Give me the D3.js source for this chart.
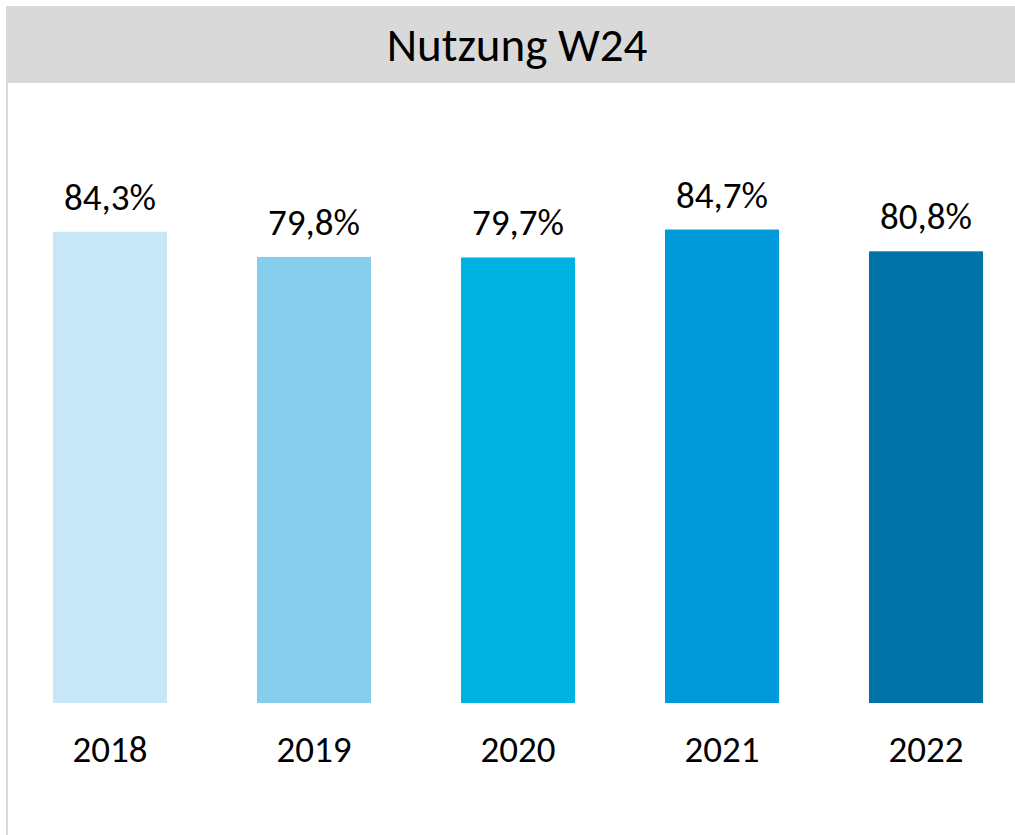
<!DOCTYPE html>
<html>
<head>
<meta charset="utf-8">
<script src="https://cdn.jsdelivr.net/npm/d3@7"></script>
<style>
  html, body { margin: 0; padding: 0; background: #fff; }
  svg { display: block; }
  text { font-family: Carlito, Lato, "Open Sans", sans-serif; fill: #000; }
</style>
</head>
<body>
<svg id="chart" width="1015" height="835"></svg>
<script>
const title = "Nutzung W24";
const years = ["2018", "2019", "2020", "2021", "2022"];
const values = [84.3, 79.8, 79.7, 84.7, 80.8];
const labels = ["84,3%", "79,8%", "79,7%", "84,7%", "80,8%"];
const colors = ["#c7e6f6", "#86ceec", "#00b2e2", "#0099da", "#0073a6"];

const svg = d3.select("#chart");

// frame: title band and left border
svg.append("rect").attr("x", 6).attr("y", 6).attr("width", 1009).attr("height", 77).attr("fill", "#d9d9d9");
svg.append("rect").attr("x", 6).attr("y", 83).attr("width", 2).attr("height", 752).attr("fill", "#d9d9d9");

svg.append("text")
  .attr("x", 517).attr("y", 61)
  .attr("text-anchor", "middle")
  .attr("font-size", 47)
  .text(title);

const x = d3.scaleBand().domain(years).range([8, 1028]).paddingInner(0.441).paddingOuter(0.2205);
const baseline = 703;
const y = d3.scaleLinear().domain([0, 100]).range([baseline, baseline - 559]);

svg.selectAll("rect.bar").data(years).enter().append("rect")
  .attr("class", "bar")
  .attr("x", d => x(d))
  .attr("width", x.bandwidth())
  .attr("y", (d, i) => y(values[i]))
  .attr("height", (d, i) => baseline - y(values[i]))
  .attr("fill", (d, i) => colors[i]);

svg.selectAll("text.val").data(years).enter().append("text")
  .attr("class", "val")
  .attr("x", d => x(d) + x.bandwidth() / 2)
  .attr("y", (d, i) => y(values[i]) - 22)
  .attr("text-anchor", "middle")
  .attr("font-size", 37)
  .text((d, i) => labels[i]);

const xAxis = d3.axisBottom(x).tickSize(0).tickPadding(0);
const ax = svg.append("g").attr("transform", `translate(0, ${baseline})`).call(xAxis);
ax.select(".domain").remove();
ax.selectAll("text")
  .attr("y", 59).attr("dy", null)
  .attr("font-size", 37)
  .style("font-family", "Carlito, Lato, 'Open Sans', sans-serif")
  .attr("fill", "#000");
</script>
</body>
</html>
